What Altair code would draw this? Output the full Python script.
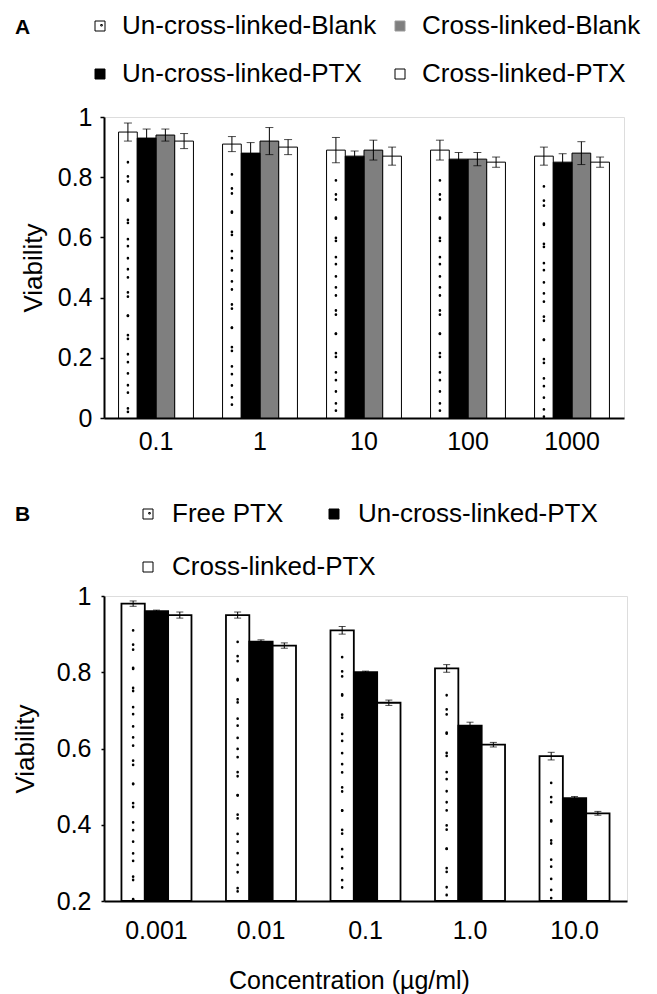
import altair as alt
import pandas as pd

FONT = "Liberation Sans"

# ---------------- Panel A data ----------------
conc_a = ["0.1", "1", "10", "100", "1000"]
legend_a = ["Un-cross-linked-Blank", "Cross-linked-Blank", "Un-cross-linked-PTX", "Cross-linked-PTX"]
order_a = ["Un-cross-linked-Blank", "Un-cross-linked-PTX", "Cross-linked-Blank", "Cross-linked-PTX"]

a_un_blank = [0.95, 0.91, 0.89, 0.89, 0.87]
a_un_blank_err = [0.03, 0.025, 0.042, 0.033, 0.03]
a_cross_blank = [0.94, 0.92, 0.89, 0.86, 0.88]
a_cross_blank_err = [0.02, 0.045, 0.033, 0.022, 0.038]
a_un_ptx = [0.93, 0.88, 0.87, 0.86, 0.85]
a_un_ptx_err = [0.03, 0.035, 0.017, 0.022, 0.028]
a_cross_ptx = [0.92, 0.90, 0.87, 0.85, 0.85]
a_cross_ptx_err = [0.025, 0.025, 0.03, 0.017, 0.017]

# ---------------- Panel B data ----------------
conc_b = ["0.001", "0.01", "0.1", "1.0", "10.0"]
legend_b = ["Free PTX", "Un-cross-linked-PTX", "Cross-linked-PTX"]
order_b = ["Free PTX", "Un-cross-linked-PTX", "Cross-linked-PTX"]
legend_b_row1 = ["Free PTX", "Un-cross-linked-PTX"]
legend_b_row2 = ["Cross-linked-PTX"]

b_free = [0.98, 0.95, 0.91, 0.81, 0.58]
b_free_err = [0.007, 0.008, 0.01, 0.01, 0.01]
b_un = [0.96, 0.88, 0.80, 0.66, 0.47]
b_un_err = [0.003, 0.005, 0.003, 0.009, 0.004]
b_cross = [0.95, 0.87, 0.72, 0.61, 0.43]
b_cross_err = [0.008, 0.007, 0.007, 0.006, 0.005]


def frame(concs, pairs):
    rows = []
    for name, vals, errs in pairs:
        for c, v, e in zip(concs, vals, errs):
            rows.append({"conc": c, "series": name, "v": v, "e": e})
    return pd.DataFrame(rows)


df_a = frame(conc_a, [
    ("Un-cross-linked-Blank", a_un_blank, a_un_blank_err),
    ("Cross-linked-Blank", a_cross_blank, a_cross_blank_err),
    ("Un-cross-linked-PTX", a_un_ptx, a_un_ptx_err),
    ("Cross-linked-PTX", a_cross_ptx, a_cross_ptx_err),
])
df_b = frame(conc_b, [
    ("Free PTX", b_free, b_free_err),
    ("Un-cross-linked-PTX", b_un, b_un_err),
    ("Cross-linked-PTX", b_cross, b_cross_err),
])

SQ = "M-1,-1H1V1H-1Z"
DOT = "M-1,-1H1V1H-1Z M0.15,-0.3H0.45V0H0.15Z"

colors_a = {"Un-cross-linked-Blank": "white", "Cross-linked-Blank": "#7f7f7f",
            "Un-cross-linked-PTX": "black", "Cross-linked-PTX": "white"}
colors_b = {"Free PTX": "white", "Un-cross-linked-PTX": "black", "Cross-linked-PTX": "white"}
strokes = {"Cross-linked-Blank": "#9a9a9a"}

LEG_COMMON = dict(title=None, orient="none", direction="horizontal", padding=0,
                  labelFontSize=26, labelFont=FONT, labelColor="black", labelLimit=500,
                  symbolSize=100, symbolStrokeWidth=1, symbolOpacity=1)


def panel(df, concs, legend_order, bar_order, colors, dotted, letter, ydom, yvals,
          width, height, xpad_inner, xpad_outer, x_label_pad, x_title, y_label_pad,
          y_title_pad, tick_size, bar_stroke, cap_size, legend_kw, letter_xy, dot_gap,
          dot_dx, legend_values=None, extra_legend=None):
    fill_scale = alt.Scale(domain=legend_order, range=[colors[s] for s in legend_order])
    shape_scale = alt.Scale(domain=legend_order,
                            range=[DOT if s == dotted else SQ for s in legend_order])
    stroke_scale = alt.Scale(domain=legend_order,
                             range=[strokes.get(s, "black") for s in legend_order])
    x_axis_kw = dict(title=x_title if x_title else "", labelAngle=0, ticks=False,
                     domainColor="black", domainWidth=2, labelFontSize=25, labelFont=FONT,
                     labelColor="black", labelPadding=x_label_pad)
    if x_title:
        x_axis_kw.update(titleFontSize=25, titleFont=FONT, titleColor="black",
                         titleFontWeight="normal", titlePadding=25, titleX=245)
    x_axis = alt.Axis(**x_axis_kw)
    x = alt.X("conc:N", sort=concs,
              scale=alt.Scale(domain=concs, paddingInner=xpad_inner, paddingOuter=xpad_outer),
              axis=x_axis)
    xo = alt.XOffset("series:N", sort=bar_order,
                     scale=alt.Scale(domain=bar_order, paddingInner=0, paddingOuter=0))
    y_scale = alt.Scale(domain=ydom, nice=False, zero=False, clamp=True)
    y_axis = alt.Axis(values=yvals, title="Viability", grid=False,
                      labelExpr="'' + datum.value",
                      tickSize=tick_size, tickColor="black", tickWidth=1.5,
                      domainColor="black", domainWidth=2,
                      labelFontSize=25, labelFont=FONT, labelColor="black",
                      labelPadding=y_label_pad,
                      titleFontSize=26, titleFont=FONT, titleColor="black",
                      titleFontWeight="normal", titlePadding=y_title_pad)

    def Y(field):
        return alt.Y(field, type="quantitative", scale=y_scale, axis=y_axis)

    leg_kw = dict(LEG_COMMON, **legend_kw)
    if legend_values is not None:
        leg_kw["values"] = legend_values
    leg = alt.Legend(**leg_kw)

    base = alt.Chart(df)

    bars = base.mark_bar(stroke="black", strokeWidth=bar_stroke).encode(
        x=x, xOffset=xo, y=Y("v"),
        fill=alt.Fill("series:N", scale=fill_scale, legend=leg),
    )

    dotted_base = base.transform_filter(
        alt.datum.series == dotted
    ).transform_calculate(top=f"datum.v - {dot_gap}")
    dots1 = dotted_base.mark_rule(
        xOffset=-dot_dx, color="black", strokeWidth=2.6, strokeCap="round",
        strokeDash=[0.2, 19], strokeDashOffset=0,
    ).encode(x=x, xOffset=xo, y=Y("top"), y2=alt.Y2Datum(ydom[0]))
    dots2 = dotted_base.mark_rule(
        xOffset=dot_dx, color="black", strokeWidth=2.6, strokeCap="round",
        strokeDash=[0.2, 23], strokeDashOffset=9,
    ).encode(x=x, xOffset=xo, y=Y("top"), y2=alt.Y2Datum(ydom[0]))

    err = base.transform_calculate(
        lo="datum.v - datum.e", hi="datum.v + datum.e"
    ).mark_rule(color="black", strokeWidth=1).encode(
        x=x, xOffset=xo, y=Y("lo"), y2="hi:Q"
    )
    caps = base.transform_calculate(
        lo="datum.v - datum.e", hi="datum.v + datum.e"
    ).transform_fold(["lo", "hi"], as_=["k", "ev"]).mark_tick(
        color="black", thickness=1, size=cap_size
    ).encode(x=x, xOffset=xo, y=Y("ev"))

    enc = dict(
        x=x, xOffset=xo, y=Y("v"),
        fill=alt.Fill("series:N", scale=fill_scale, legend=leg),
        shape=alt.Shape("series:N", scale=shape_scale, legend=leg),
        stroke=alt.Stroke("series:N", scale=stroke_scale, legend=leg),
    )
    if extra_legend is not None:
        vals, kw = extra_legend
        leg2 = alt.Legend(**dict(LEG_COMMON, symbolType="square", symbolFillColor="white",
                                 symbolStrokeColor="black", **kw))
        enc["opacity"] = alt.Opacity("series:N",
                                     scale=alt.Scale(domain=vals, range=[1] * len(vals)),
                                     legend=leg2)
    legend_layer = base.transform_filter("datum.v < -10").mark_point(
        filled=True, strokeWidth=1
    ).encode(**enc)

    letter_layer = alt.Chart(alt.Data(values=[{"label": letter}])).mark_text(
        align="left", baseline="alphabetic", fontSize=21, fontWeight="bold",
        font=FONT, color="black"
    ).encode(text="label:N", x=alt.value(letter_xy[0]), y=alt.value(letter_xy[1]))

    return alt.layer(bars, dots1, dots2, err, caps, legend_layer, letter_layer).properties(
        width=width, height=height
    )


panel_a = panel(
    df_a, conc_a, legend_a, order_a, colors_a, "Un-cross-linked-Blank", "A",
    [0, 1], [0, 0.2, 0.4, 0.6, 0.8, 1], 520, 301, 0.28, 0.14, 11, None, 8, 11, 4, 1, 8,
    dict(legendX=-17, legendY=-104, columns=2, gridAlign="each", columnPadding=10,
         rowPadding=22, labelOffset=9),
    (-89, -83), 0.1, 2.2,
)
panel_b = panel(
    df_b, conc_b, legend_b, order_b, colors_b, "Free PTX", "B",
    [0.2, 1], [0.2, 0.4, 0.6, 0.8, 1], 523, 305, 0.33, 0.167, 17,
    "Concentration (µg/ml)", 10, 18, 3, 1.8, 7,
    dict(legendX=31, legendY=-95, columns=2, columnPadding=37, labelOffset=11),
    (-89, -75), 0.07, 2.8,
    legend_values=legend_b_row1,
    extra_legend=(legend_b_row2, dict(legendX=31, legendY=-42, labelOffset=11)),
)

chart = alt.vconcat(panel_a, panel_b, spacing=45).resolve_scale(
    x="independent", y="independent", xOffset="independent",
    fill="independent", shape="independent", stroke="independent",
    opacity="independent",
).resolve_legend(fill="independent", shape="independent", stroke="independent",
                 opacity="independent").properties(
    padding={"left": 3, "top": 4, "right": 0, "bottom": 0}
).configure_view(strokeWidth=0).configure(background="white")

chart.save("out.html", embed_options={"renderer": "svg", "actions": False})
